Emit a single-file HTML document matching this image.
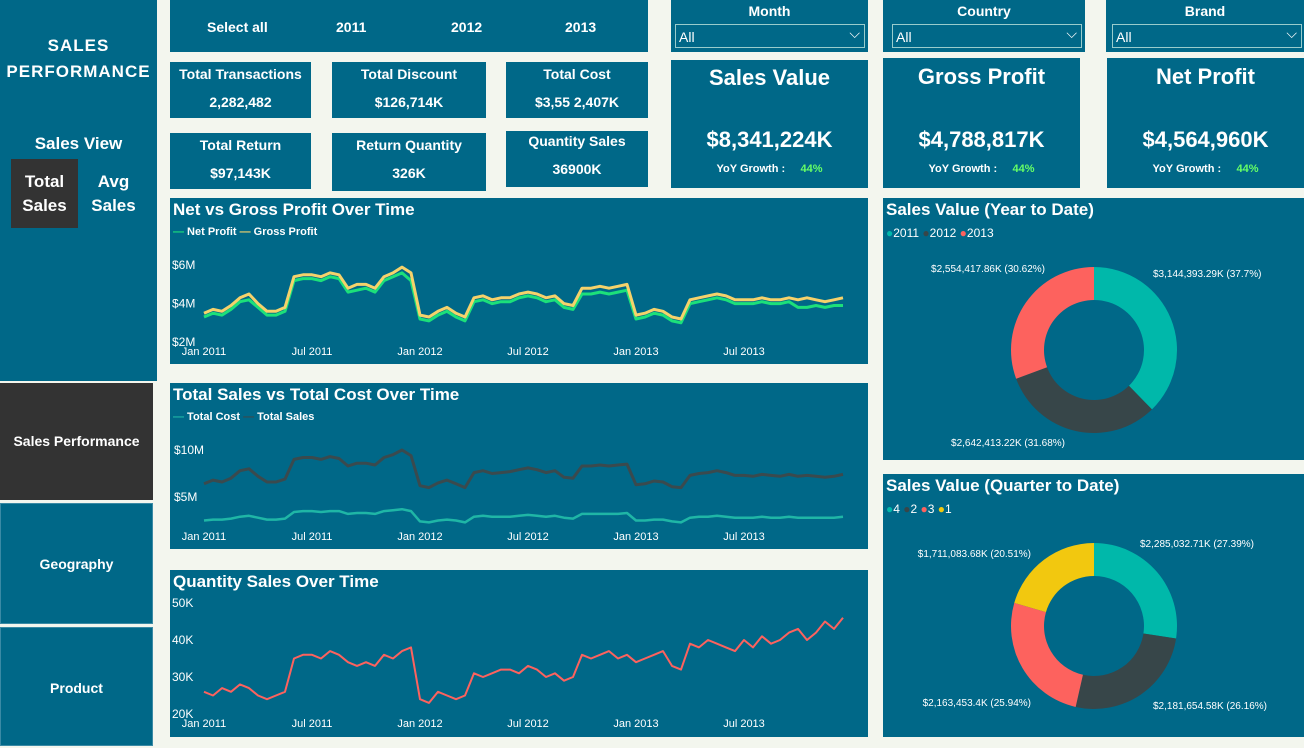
<!DOCTYPE html>
<html><head><meta charset="utf-8"><style>
*{box-sizing:border-box;margin:0;padding:0}
body{width:1304px;height:746px;background:#f3f6ee;position:relative;overflow:hidden;font-family:"Liberation Sans","DejaVu Sans",sans-serif;color:#fff}
.p{position:absolute;background:#006888}
.c{text-align:center;font-weight:bold}
.t{position:absolute;font-weight:bold;font-size:17px;left:3px;top:2px}
.lg{position:absolute;font-size:11px;font-weight:bold;left:3px;top:28px}
.dd{position:absolute;height:24px;border:1px solid #9cc;font-size:14px;padding:4px 3px}
svg{position:absolute;left:0;top:0}
</style></head><body>
<div class="p" style="left:0;top:0;width:157px;height:381px">
<div class="c" style="position:absolute;top:33px;width:157px;font-size:17px;line-height:26px;letter-spacing:1px">SALES<br>PERFORMANCE</div>
<div class="c" style="position:absolute;top:134px;width:157px;font-size:17px">Sales View</div>
<div class="c" style="position:absolute;left:11px;top:159px;width:67px;height:69px;background:#333;font-size:17px;line-height:24px;padding-top:11px">Total<br>Sales</div>
<div class="c" style="position:absolute;left:80px;top:170px;width:67px;font-size:17px;line-height:24px">Avg<br>Sales</div>
</div>
<div class="p c" style="left:0;top:383px;width:153px;height:117px;background:#333;font-size:14px;line-height:117px">Sales Performance</div>
<div class="p c" style="left:0;top:503px;width:153px;height:121px;border:1px solid #3a8aa5;font-size:14px;line-height:120px">Geography</div>
<div class="p c" style="left:0;top:627px;width:153px;height:119px;border:1px solid #3a8aa5;font-size:14px;line-height:120px">Product</div>

<div class="p" style="left:170px;top:0;width:478px;height:52px;font-size:14px;font-weight:bold">
<span style="position:absolute;left:37px;top:19px">Select all</span>
<span style="position:absolute;left:166px;top:19px">2011</span>
<span style="position:absolute;left:281px;top:19px">2012</span>
<span style="position:absolute;left:395px;top:19px">2013</span>
</div>

<div class="p c" style="left:170px;top:62px;width:141px;height:56px;font-size:14px"><div style="margin-top:4px">Total Transactions</div><div style="margin-top:12px">2,282,482</div></div>
<div class="p c" style="left:332px;top:62px;width:154px;height:56px;font-size:14px"><div style="margin-top:4px">Total Discount</div><div style="margin-top:12px">$126,714K</div></div>
<div class="p c" style="left:506px;top:62px;width:142px;height:56px;font-size:14px"><div style="margin-top:4px">Total Cost</div><div style="margin-top:12px">$3,55 2,407K</div></div>
<div class="p c" style="left:170px;top:133px;width:141px;height:56px;font-size:14px"><div style="margin-top:4px">Total Return</div><div style="margin-top:12px">$97,143K</div></div>
<div class="p c" style="left:332px;top:133px;width:154px;height:58px;font-size:14px"><div style="margin-top:4px">Return Quantity</div><div style="margin-top:12px">326K</div></div>
<div class="p c" style="left:506px;top:131px;width:142px;height:56px;font-size:14px"><div style="margin-top:2px">Quantity Sales</div><div style="margin-top:12px">36900K</div></div>

<div class="p" style="left:671px;top:0;width:197px;height:52px"><div class="c" style="font-size:14px;margin-top:3px">Month</div><div class="dd" style="left:4px;top:24px;width:190px">All<span style="position:absolute;right:4px;top:0">⌵</span></div></div>
<div class="p" style="left:883px;top:0;width:202px;height:52px"><div class="c" style="font-size:14px;margin-top:3px">Country</div><div class="dd" style="left:9px;top:24px;width:190px">All<span style="position:absolute;right:4px;top:0">⌵</span></div></div>
<div class="p" style="left:1106px;top:0;width:198px;height:52px"><div class="c" style="font-size:14px;margin-top:3px">Brand</div><div class="dd" style="left:6px;top:24px;width:190px">All<span style="position:absolute;right:4px;top:0">⌵</span></div></div>

<div class="p c" style="left:671px;top:60px;width:197px;height:128px"><div style="font-size:22px;margin-top:5px">Sales Value</div><div style="font-size:22px;margin-top:36px">$8,341,224K</div><div style="font-size:11px;margin-top:10px">YoY Growth : &nbsp;&nbsp;&nbsp;&nbsp;<span style="color:#6f6">44%</span></div></div>
<div class="p c" style="left:883px;top:58px;width:197px;height:130px"><div style="font-size:22px;margin-top:6px">Gross Profit</div><div style="font-size:22px;margin-top:37px">$4,788,817K</div><div style="font-size:11px;margin-top:10px">YoY Growth : &nbsp;&nbsp;&nbsp;&nbsp;<span style="color:#6f6">44%</span></div></div>
<div class="p c" style="left:1107px;top:58px;width:197px;height:130px"><div style="font-size:22px;margin-top:6px">Net Profit</div><div style="font-size:22px;margin-top:37px">$4,564,960K</div><div style="font-size:11px;margin-top:10px">YoY Growth : &nbsp;&nbsp;&nbsp;&nbsp;<span style="color:#6f6">44%</span></div></div>

<div class="p" style="left:170px;top:198px;width:698px;height:166px"><div class="t">Net vs Gross Profit Over Time</div><div class="lg"><span style="color:#1ce07a">—</span> Net Profit <span style="color:#f5d26b">—</span> Gross Profit</div></div>
<div class="p" style="left:170px;top:383px;width:698px;height:166px"><div class="t">Total Sales vs Total Cost Over Time</div><div class="lg"><span style="color:#1fb6a6">—</span> Total Cost <span style="color:#3a4a4e">—</span> Total Sales</div></div>
<div class="p" style="left:170px;top:570px;width:698px;height:167px"><div class="t">Quantity Sales Over Time</div></div>
<div class="p" style="left:883px;top:198px;width:421px;height:262px"><div class="t">Sales Value (Year to Date)</div><div class="lg" style="top:28px;font-weight:normal;font-size:12px"><span style="color:#00b8aa">●</span>2011 <span style="color:#374649">●</span>2012 <span style="color:#fd625e">●</span>2013</div></div>
<div class="p" style="left:883px;top:474px;width:421px;height:263px"><div class="t">Sales Value (Quarter to Date)</div><div class="lg" style="top:28px;font-weight:normal;font-size:12px"><span style="color:#00b8aa">●</span>4 <span style="color:#374649">●</span>2 <span style="color:#fd625e">●</span>3 <span style="color:#f2c80f">●</span>1</div></div>

<svg id="s" width="1304" height="746" xmlns="http://www.w3.org/2000/svg" font-family="Liberation Sans, sans-serif"></svg>
<script>
// half-month samples, Jan 2011 - Dec 2013 (72 points)
const grossProfit=[3.5,3.7,3.6,3.9,4.3,4.5,4.0,3.6,3.6,3.8,5.4,5.5,5.5,5.4,5.6,5.5,4.8,5.0,5.0,4.8,5.4,5.6,5.9,5.6,3.4,3.3,3.6,3.8,3.5,3.3,4.3,4.4,4.2,4.3,4.3,4.5,4.6,4.5,4.3,4.4,4.0,3.9,4.8,4.8,4.9,4.8,4.9,5.0,3.4,3.5,3.7,3.6,3.3,3.2,4.2,4.3,4.4,4.5,4.4,4.2,4.2,4.2,4.3,4.2,4.2,4.3,4.2,4.3,4.2,4.1,4.2,4.3];
const netProfit=[3.3,3.5,3.4,3.7,4.1,4.2,3.8,3.4,3.4,3.6,5.2,5.3,5.3,5.2,5.4,5.3,4.6,4.7,4.8,4.6,5.2,5.4,5.6,5.2,3.2,3.1,3.4,3.6,3.3,3.1,4.1,4.2,4.0,4.1,4.1,4.3,4.4,4.3,4.1,4.2,3.8,3.7,4.5,4.5,4.6,4.5,4.6,4.7,3.2,3.3,3.5,3.4,3.1,3.0,4.0,4.1,4.2,4.3,4.2,4.0,4.0,4.0,4.1,4.0,4.0,4.1,3.8,3.8,3.9,3.8,3.9,3.9];
const totalSales=[6.4,6.8,6.6,7.0,7.8,8.0,7.2,6.6,6.6,6.9,9.0,9.2,9.2,9.0,9.3,9.1,8.3,8.6,8.6,8.4,9.2,9.5,10.0,9.4,6.2,6.0,6.5,6.8,6.4,6.0,7.6,7.8,7.5,7.6,7.7,7.9,8.1,7.9,7.6,7.8,7.1,7.0,8.3,8.3,8.4,8.3,8.4,8.5,6.3,6.4,6.7,6.6,6.1,6.0,7.3,7.5,7.6,7.8,7.6,7.3,7.3,7.2,7.4,7.3,7.2,7.4,7.2,7.3,7.2,7.1,7.2,7.4];
const totalCost=[2.5,2.6,2.6,2.7,2.9,3.0,2.8,2.6,2.6,2.7,3.4,3.5,3.5,3.4,3.5,3.5,3.2,3.3,3.3,3.2,3.5,3.6,3.7,3.5,2.4,2.3,2.5,2.6,2.5,2.3,2.9,3.0,2.9,2.9,2.9,3.0,3.1,3.0,2.9,3.0,2.8,2.7,3.2,3.2,3.2,3.2,3.2,3.3,2.5,2.5,2.6,2.6,2.4,2.3,2.8,2.9,2.9,3.0,2.9,2.8,2.8,2.8,2.9,2.8,2.8,2.9,2.8,2.8,2.8,2.8,2.8,2.9];
const quantityK=[26,25,27,26,28,27,25,24,25,26,35,36,36,35,37,36,34,33,34,33,36,35,37,38,24,23,26,25,24,25,31,30,31,32,32,31,33,32,30,31,29,30,36,35,36,37,35,36,34,35,36,37,33,32,39,38,40,39,38,37,40,38,41,39,40,42,43,40,42,45,43,46];
const xTicks=["Jan 2011","Jul 2011","Jan 2012","Jul 2012","Jan 2013","Jul 2013"];
const ytdLabels=["2011","2012","2013"];
const ytdValues=[3144393.29,2642413.22,2554417.86];
const ytdText=["$3,144,393.29K (37.7%)","$2,642,413.22K (31.68%)","$2,554,417.86K (30.62%)"];
const qtdLabels=["4","2","3","1"];
const qtdValues=[2285032.71,2181654.58,2163453.4,1711083.68];
const qtdText=["$2,285,032.71K (27.39%)","$2,181,654.58K (26.16%)","$2,163,453.4K (25.94%)","$1,711,083.68K (20.51%)"];
const NS="http://www.w3.org/2000/svg",S=document.getElementById('s');
function mk(t,a,p){const e=document.createElementNS(NS,t);for(const k in a)e.setAttribute(k,a[k]);(p||S).appendChild(e);return e;}
const x0=204,xPer=216/24; // per half-month
const xS=i=>x0+i*xPer;
function line(arr,yS,col,w,name){const d=arr.map((v,i)=>(i?'L':'M')+xS(i).toFixed(1)+','+yS(v).toFixed(1)).join('');const e=mk('path',{d:d,fill:'none',stroke:col,'stroke-width':w,'stroke-linejoin':'round'});

}
function txt(x,y,s,sz,anchor,name){const e=mk('text',{x:x,y:y,fill:'#fff','font-size':sz,'text-anchor':anchor||'start'});e.textContent=s;

}
function xAxis(y,name){xTicks.forEach((t,i)=>txt(x0+i*108,y,t,11,'middle',name));}
// chart 1
const y1=v=>342-(v-2)*19.2;
[["$6M",6],["$4M",4],["$2M",2]].forEach(t=>txt(172,y1(t[1])+4,t[0],12,'start','profit-y-tick'));
line(netProfit,y1,'#1ce07a',3,'net-profit-line');
line(grossProfit,y1,'#f5d26b',3,'gross-profit-line');
xAxis(355,'profit-x-tick');
// chart 2
const y2=v=>544-v*9.4;
[["$10M",10],["$5M",5]].forEach(t=>txt(174,y2(t[1])+4,t[0],12,'start','sales-y-tick'));
line(totalSales,y2,'#3a4a4e',3,'total-sales-line');
line(totalCost,y2,'#1fb6a6',2.5,'total-cost-line');
xAxis(540,'sales-x-tick');
// chart 3
const y3=v=>714-(v-20)*3.7;
[["50K",50],["40K",40],["30K",30],["20K",20]].forEach(t=>txt(172,y3(t[1])+4,t[0],12,'start','quantity-y-tick'));
line(quantityK,y3,'#fd625e',2,'quantity-line');
xAxis(727,'quantity-x-tick');
// donuts
function donut(cx,cy,vals,cols,labels,texts,pos,name){const tot=vals.reduce((a,b)=>a+b,0);let a=0;const R=83,r=50;
vals.forEach((v,i)=>{const a1=a+v/tot*2*Math.PI;const p=(ang,rr)=>[cx+rr*Math.sin(ang),cy-rr*Math.cos(ang)];
const [x1,yy1]=p(a,R),[x2,yy2]=p(a1,R),[x3,yy3]=p(a1,r),[x4,yy4]=p(a,r);const lg=a1-a>Math.PI?1:0;
const e=mk('path',{d:`M${x1},${yy1}A${R},${R} 0 ${lg} 1 ${x2},${yy2}L${x3},${yy3}A${r},${r} 0 ${lg} 0 ${x4},${yy4}Z`,fill:cols[i]});


txt(pos[i][0],pos[i][1],texts[i],10,pos[i][2],name+'-label');a=a1;});}
donut(1094,350,ytdValues,['#00b8aa','#374649','#fd625e'],ytdLabels,ytdText,[[1153,277,'start'],[1065,446,'end'],[1045,272,'end']],'ytd');
donut(1094,626,qtdValues,['#00b8aa','#374649','#fd625e','#f2c80f'],qtdLabels,qtdText,[[1140,547,'start'],[1153,709,'start'],[1031,706,'end'],[1031,557,'end']],'qtd');
</script>
</body></html>
